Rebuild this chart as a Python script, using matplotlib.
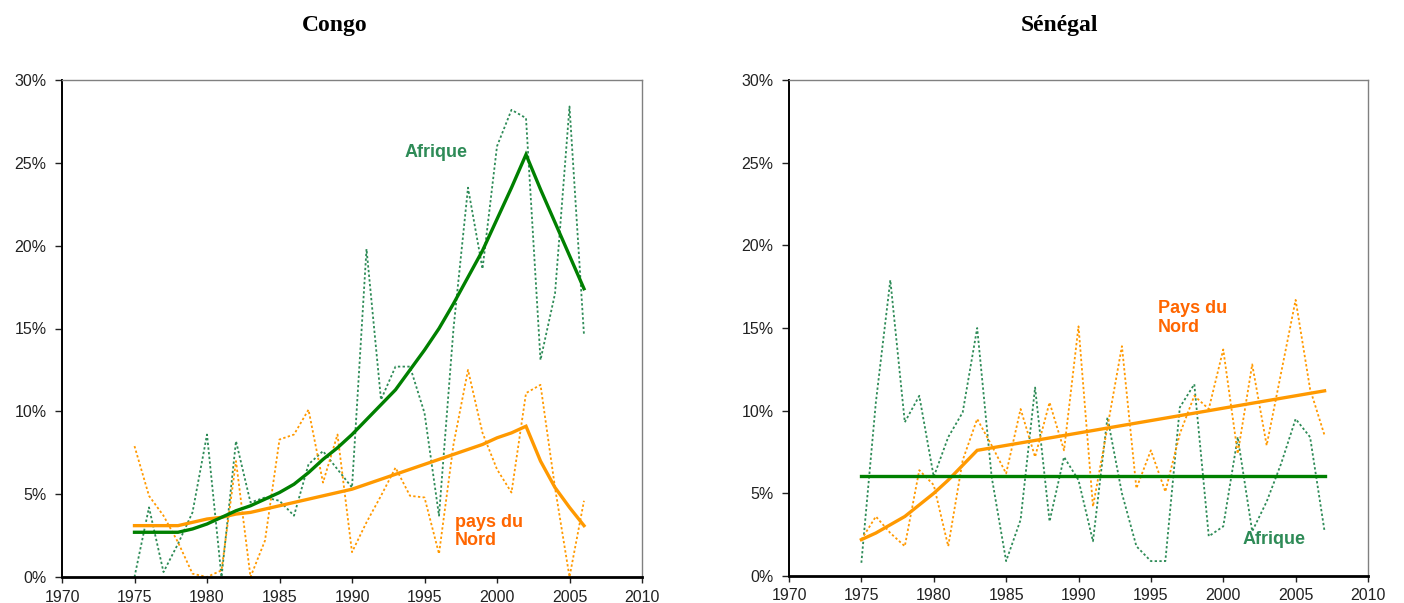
import matplotlib
matplotlib.use("Agg")
import matplotlib.pyplot as plt
from matplotlib.ticker import FuncFormatter

# ---- data (%) ----
congo_years = list(range(1975, 2007))
congo_afrique = [0.0, 4.2, 0.3, 2.0, 3.9, 8.6, 0.0, 8.2, 4.5, 4.8, 4.6, 3.7, 6.8, 7.6, 6.5, 5.4,
                 19.8, 10.7, 12.7, 12.7, 9.9, 3.7, 15.0, 23.5, 18.6, 26.0, 28.2, 27.7, 13.1, 17.1, 28.4, 14.6]
congo_nord = [7.9, 4.9, 3.7, 2.1, 0.2, 0.0, 0.4, 7.0, 0.0, 2.2, 8.3, 8.6, 10.1, 5.7, 8.6, 1.5,
              3.3, 4.9, 6.6, 4.9, 4.8, 1.4, 8.0, 12.5, 8.7, 6.5, 5.1, 11.1, 11.6, 5.4, 0.0, 4.6]
congo_afrique_trend = [2.7, 2.7, 2.7, 2.7, 2.9, 3.2, 3.6, 4.0, 4.3, 4.7, 5.1, 5.6, 6.3, 7.1, 7.8, 8.6,
                       9.5, 10.4, 11.3, 12.5, 13.7, 15.0, 16.5, 18.1, 19.7, 21.6, 23.5, 25.5, 23.4, 21.4, 19.4, 17.4]
congo_nord_trend = [3.1, 3.1, 3.1, 3.1, 3.3, 3.5, 3.6, 3.8, 3.9, 4.1, 4.3, 4.5, 4.7, 4.9, 5.1, 5.3,
                    5.6, 5.9, 6.2, 6.5, 6.8, 7.1, 7.4, 7.7, 8.0, 8.4, 8.7, 9.1, 7.0, 5.4, 4.2, 3.1]

sen_years = list(range(1975, 2008))
sen_afrique = [0.8, 10.5, 17.9, 9.3, 10.9, 6.0, 8.4, 9.9, 15.0, 6.0, 0.9, 3.4, 11.4, 3.3, 7.2, 5.8,
               2.1, 9.6, 5.0, 1.8, 0.9, 0.9, 10.2, 11.6, 2.4, 3.0, 8.4, 2.7, 4.5, 6.8, 9.5, 8.4, 2.7]
sen_nord = [2.2, 3.6, 2.6, 1.8, 6.4, 5.5, 1.8, 7.0, 9.5, 7.9, 6.2, 10.1, 7.2, 10.5, 7.6, 15.1,
            4.2, 9.0, 13.9, 5.3, 7.6, 5.1, 8.6, 10.9, 10.1, 13.7, 7.4, 12.8, 7.9, 12.3, 16.7, 11.3, 8.5]
sen_afrique_trend = [6.05] * 33
sen_nord_trend = [2.2, 2.6, 3.1, 3.6, 4.3, 5.0, 5.8, 6.7, 7.6, 7.75, 7.9, 8.05, 8.2, 8.35, 8.5, 8.65,
                  8.8, 8.95, 9.1, 9.25, 9.4, 9.55, 9.7, 9.85, 10.0, 10.15, 10.3, 10.45, 10.6, 10.75, 10.9, 11.05, 11.2]

GREEN, GREEN_DOT, ORANGE, LABEL_OR = "#008000", "#2E8B57", "#FF9900", "#FF6600"
SANS = ["Liberation Sans", "DejaVu Sans"]

fig = plt.figure(figsize=(14.04, 6.03), dpi=100)
axL = fig.add_axes([62/1404, 26/603, 580/1404, 497/603])
axR = fig.add_axes([789/1404, 27/603, 579/1404, 496/603])

def style(ax):
    ax.set_xlim(1970, 2010); ax.set_ylim(0, 30)
    ax.set_xticks(range(1970, 2011, 5)); ax.set_yticks(range(0, 31, 5))
    ax.yaxis.set_major_formatter(FuncFormatter(lambda v, p: f"{v:.0f}%"))
    for s in ("top", "right"):
        ax.spines[s].set_color("#808080"); ax.spines[s].set_linewidth(1.0)
    ax.spines["left"].set_linewidth(1.4); ax.spines["bottom"].set_linewidth(2.0)
    ax.tick_params(axis="y", length=5, width=1, pad=6, labelsize=11.5, colors="#222222")
    ax.tick_params(axis="x", length=4, width=1, pad=5, labelsize=11.5, colors="#222222")
    for lab in ax.get_xticklabels() + ax.get_yticklabels():
        lab.set_family(SANS)

def draw(ax, yrs, afr, nord, afr_t, nord_t):
    ax.plot(yrs, afr, color=GREEN_DOT, lw=1.3, dashes=(1.3, 1.3))
    ax.plot(yrs, nord, color=ORANGE, lw=1.3, dashes=(1.3, 1.3))
    ax.plot(yrs, nord_t, color=ORANGE, lw=2.4, solid_joinstyle="miter")
    ax.plot(yrs, afr_t, color=GREEN, lw=2.4, solid_joinstyle="miter")
    style(ax)

draw(axL, congo_years, congo_afrique, congo_nord, congo_afrique_trend, congo_nord_trend)
draw(axR, sen_years, sen_afrique, sen_nord, sen_afrique_trend, sen_nord_trend)

lab = dict(fontsize=13, fontweight="bold", family=SANS)
axL.text(1995.8, 25.6, "Afrique", color=GREEN_DOT, ha="center", va="center", **lab)
axL.text(1997.1, 2.75, "pays du\nNord", color=LABEL_OR, ha="left", va="center", linespacing=1.1, **lab)
axR.text(1995.5, 15.6, "Pays du\nNord", color=LABEL_OR, ha="left", va="center", linespacing=1.1, **lab)
axR.text(2003.5, 2.2, "Afrique", color=GREEN_DOT, ha="center", va="center", **lab)

tit = dict(fontsize=17, fontweight="bold", family=["Liberation Serif", "DejaVu Serif"], ha="center", va="center")
fig.text(335/1404, 1 - 25/603, "Congo", **tit)
fig.text(1059/1404, 1 - 25/603, "Sénégal", **tit)

fig.savefig("out.png", dpi=100)
